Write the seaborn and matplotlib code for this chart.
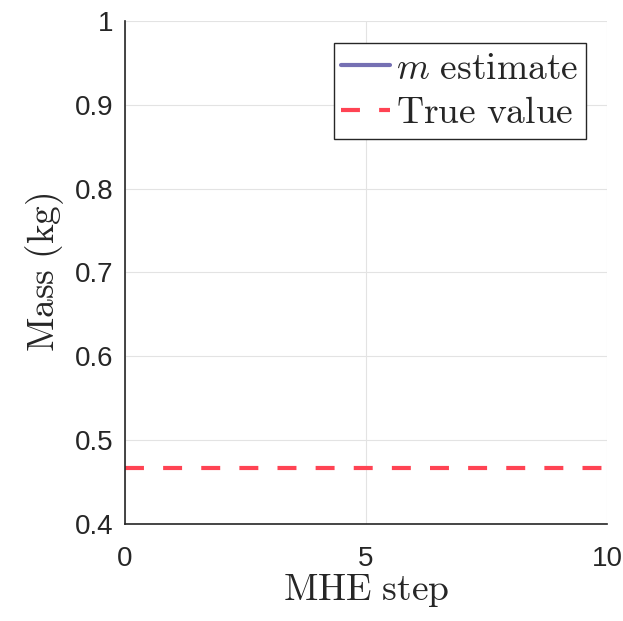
import numpy as np
import pandas as pd
import matplotlib
matplotlib.use("Agg")
import matplotlib.pyplot as plt
import seaborn as sns

# MHE mass estimate vs true value
mhe_step = [0, 10]
true_mass = [0.467, 0.467]
est_step = []      # no estimate points shown
est_mass = []

x_ticks = [0, 5, 10]
y_ticks = [0.4, 0.5, 0.6, 0.7, 0.8, 0.9, 1.0]
y_tick_labels = ["0.4", "0.5", "0.6", "0.7", "0.8", "0.9", "1"]

sns.set_style("white")
plt.rcParams["font.family"] = ["Liberation Sans", "DejaVu Sans"]
plt.rcParams["mathtext.fontset"] = "cm"

fig = plt.figure(figsize=(6.23, 6.21), dpi=100)
ax = fig.add_axes([0.2006, 0.1562, 0.7737, 0.8100])

df_true = pd.DataFrame({"step": mhe_step, "mass": true_mass})
df_est = pd.DataFrame({"step": pd.Series(est_step, dtype=float),
                       "mass": pd.Series(est_mass, dtype=float)})

sns.lineplot(data=df_est, x="step", y="mass", ax=ax, color="#7570b3",
             linewidth=3, label=r"$m\ \mathrm{estimate}$")
sns.lineplot(data=df_true, x="step", y="mass", ax=ax, color="#ff4353",
             linewidth=3, dashes=False, label=r"$\mathrm{True\ value}$")
ax.lines[-1].set_dashes([4.55, 4.6])

ax.set_xlim(0, 10)
ax.set_ylim(0.4, 1.0)
ax.set_xticks(x_ticks)
ax.set_yticks(y_ticks)
ax.set_yticklabels(y_tick_labels)
ax.tick_params(axis="both", labelsize=20, direction="in", length=6,
               width=1, colors="#262626")
ax.tick_params(axis="x", pad=16)
ax.tick_params(axis="y", pad=8)
ax.grid(True, color="#e3e3e3", linewidth=0.8)

for side in ["top", "right"]:
    ax.spines[side].set_visible(False)
for side in ["left", "bottom"]:
    ax.spines[side].set_color("#262626")
    ax.spines[side].set_linewidth(1.2)

ax.set_xlabel(r"$\mathrm{MHE\ step}$", fontsize=27, color="#262626", labelpad=0)
ax.set_ylabel(r"$\mathrm{Mass\ (kg)}$", fontsize=27, color="#262626", labelpad=7)

leg = ax.legend(loc="upper right", bbox_to_anchor=(0.956, 0.956), fontsize=27,
                frameon=True, fancybox=False, framealpha=1, edgecolor="#262626",
                handlelength=1.3, handletextpad=0.16, borderpad=0.2,
                labelspacing=0.23, borderaxespad=0)
leg.get_frame().set_linewidth(1.0)

fig.savefig("out.png", dpi=100)
